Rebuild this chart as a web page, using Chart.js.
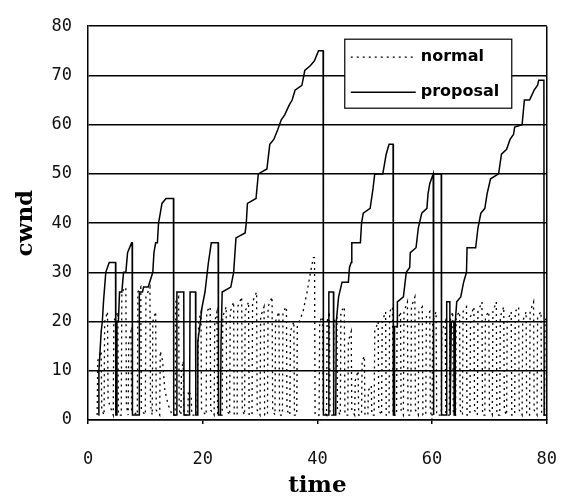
<!DOCTYPE html>
<html>
<head>
<meta charset="utf-8">
<script src="https://cdn.jsdelivr.net/npm/chart.js@4.4.1/dist/chart.umd.min.js"></script>
<style>
  html, body { margin: 0; padding: 0; background: #fff; }
  canvas { display: block; }
</style>
</head>
<body>
<canvas id="cwndChart" width="582" height="500"></canvas>
<script>
// proposal (solid) trace
const proposalTime = [
  1.8, 1.9, 2.1, 2.3, 2.5, 2.7, 2.9, 3.1, 3.7, 4.8, 4.85,
  5.0, 5.05, 5.3, 5.5, 5.9, 6.2, 6.6, 6.9, 7.6, 7.7, 7.75, 8.9,
  8.95, 9.5, 9.7, 10.5, 11.3, 11.5, 11.8, 12.1, 12.3, 12.6, 12.9, 13.6, 14.9, 14.95,
  15.4, 15.5, 16.7, 16.75, 17.7, 17.8, 18.75, 18.8, 19.1,
  19.15, 19.5, 19.9, 20.4, 20.7, 21.0, 21.5, 22.7, 22.75,
  23.1, 23.2, 23.4, 24.9, 25.4, 25.8, 27.4, 27.6, 27.8, 29.3, 29.7, 31.2, 31.7, 32.4,
  33.1, 33.7, 34.3, 35.1, 35.6, 36.1, 37.3, 37.8, 38.8, 39.5, 40.2, 41.0, 41.05,
  41.9, 42.0, 42.8, 42.85, 43.2,
  43.3, 43.7, 44.3, 45.4, 45.6, 45.9, 46.0, 47.5, 47.7, 48.0, 49.2, 49.7, 50.0,
  51.4, 51.7, 52.0, 52.5, 53.2, 53.25,
  53.4, 53.45, 53.9, 53.95, 55.0, 55.5, 56.1, 56.2, 57.2, 57.6, 58.2, 59.1, 59.3,
  59.6, 60.2, 60.25, 60.3, 61.6, 61.65,
  62.5, 62.55, 63.1, 63.15, 63.3, 63.35, 63.8, 63.85, 64.0,
  64.05, 64.3, 65.0, 65.5, 66.0, 66.1, 67.6, 68.0, 68.5, 69.2, 69.6, 70.2, 71.6,
  72.1, 73.0, 73.6, 74.2, 74.4, 75.7, 76.1, 77.0, 77.8, 78.4, 78.6, 79.5, 79.55,
  79.9, 79.95, 80.0
];
const proposalCwnd = [
  1, 10, 14, 18, 20, 24, 27, 30, 32, 32, 1,
  1, 20, 20, 26, 26, 30, 30, 34, 36, 36, 1, 1,
  26, 26, 27, 27, 30, 34, 36, 36, 40, 42, 44, 45, 45, 1,
  1, 26, 26, 1, 1, 26, 26, 1, 1,
  16, 19, 23, 26, 29, 32, 36, 36, 1,
  1, 16, 26, 27, 30, 37, 38, 40, 44, 45, 50, 51, 56, 57,
  59, 61, 62, 64, 65, 67, 68, 71, 72, 73, 75, 75, 1,
  1, 26, 26, 1, 1,
  20, 25, 28, 28, 31, 32, 36, 36, 40, 42, 43, 47, 50,
  50, 52, 54, 56, 56, 1,
  1, 19, 19, 24, 25, 30, 31, 34, 35, 39, 42, 43, 46,
  48, 50, 1, 50, 50, 1,
  1, 24, 24, 1, 1, 20, 20, 1, 1,
  20, 24, 25, 28, 30, 35, 35, 39, 42, 43, 46, 49, 50,
  54, 55, 57, 58, 59.5, 60, 65, 65, 67, 68, 69, 69, 1,
  1, 17, 20
];

// normal (dotted) trace
const normalTime = [
  1.6, 1.7, 2.3, 2.4, 2.8, 2.9, 3.4, 3.5, 4.4, 4.5, 5.2, 5.3, 5.8, 5.9, 6.6, 6.7,
  7.0, 7.1, 7.5, 7.6, 8.6, 8.7, 9.2, 9.3, 10.0, 10.1, 10.8, 10.9, 11.2, 11.3, 11.8, 11.9,
  12.5, 12.6, 13.0, 13.4, 14.0, 14.4, 14.6,
  15.2, 15.3, 15.8, 15.9, 16.2, 16.3, 16.6, 16.7, 17.4, 17.5, 18.0, 18.1, 19.0, 19.3,
  19.7, 19.8, 20.6, 20.7, 21.3, 21.4, 22.0, 22.1, 22.5, 22.6,
  23.4, 23.5, 24.1, 24.2, 24.7, 24.8, 25.4, 25.5, 26.0, 26.1, 26.8, 26.9, 27.3, 27.4,
  28.0, 28.1, 28.6, 28.7, 29.4, 29.5, 30.0, 30.1, 30.7, 30.8, 31.3, 31.4, 32.1, 32.2,
  32.6, 32.7, 33.3, 33.4, 33.9, 34.0, 34.6, 34.7, 35.2, 35.3, 35.9, 36.0, 36.4, 36.5,
  37.5, 38.2, 38.8, 39.3, 39.5, 39.6, 40.3, 40.4, 40.9, 41.0, 41.6, 41.7, 42.1, 42.2,
  42.8, 42.9, 43.4, 43.5, 44.0, 44.1, 44.7, 44.8,
  45.3, 45.4, 45.9, 46.0, 46.5, 46.6, 47.1, 47.2, 47.7, 47.8, 48.2, 48.3, 48.8, 48.9,
  49.4, 49.5, 49.9, 50.0, 50.6, 50.7, 51.2, 51.3, 51.9, 52.0, 52.5, 52.6, 53.1, 53.2,
  53.8, 53.9, 54.5, 54.6, 55.0, 55.1, 55.7, 55.8, 56.3, 56.4, 57.0, 57.1, 57.6, 57.7,
  58.3, 58.4, 58.9, 59.0, 59.6, 59.7, 60.0, 60.1, 60.7, 60.8,
  61.6, 61.7, 62.3, 62.4, 63.0, 63.1, 63.6, 63.7, 64.1, 64.2, 64.8, 64.9, 65.3, 65.4,
  66.0, 66.1, 66.6, 66.7, 67.3, 67.4, 67.9, 68.0, 68.7, 68.8, 69.2, 69.3, 69.9, 70.0,
  70.5, 70.6, 71.2, 71.3, 71.8, 71.9, 72.5, 72.6, 73.0, 73.1, 73.8, 73.9, 74.4, 74.5,
  75.1, 75.2, 75.7, 75.8, 76.4, 76.5, 77.0, 77.1, 77.7, 77.8, 78.3, 78.4, 79.0, 79.1,
  79.6, 79.7, 80.0
];
const normalCwnd = [
  1, 12, 14, 2, 1, 20, 22, 4, 1, 20, 22, 1, 1, 26, 27, 3,
  1, 16, 18, 2, 1, 26, 27, 2, 1, 25, 27, 3, 1, 20, 22, 2,
  1, 14, 12, 6, 3, 2, 1,
  1, 24, 25, 2, 1, 10, 12, 1, 1, 6, 5, 1, 1, 20,
  22, 2, 1, 22, 23, 2, 1, 20, 22, 1,
  1, 21, 23, 2, 1, 22, 24, 1, 1, 23, 25, 2, 1, 22,
  24, 1, 1, 24, 26, 2, 1, 21, 23, 1, 1, 23, 25, 2,
  1, 20, 22, 1, 1, 22, 23, 2, 1, 18, 20, 1, 1, 19,
  22, 26, 30, 33, 33, 1, 1, 20, 21, 2, 1, 20, 22, 1,
  1, 20, 21, 2, 1, 22, 23, 1,
  1, 16, 18, 2, 1, 8, 10, 1, 1, 12, 13, 1, 1, 6,
  7, 1, 1, 18, 20, 2, 1, 20, 22, 1, 1, 22, 23, 1,
  1, 20, 22, 2, 1, 22, 24, 1, 1, 23, 25, 2, 1, 22,
  23, 1, 1, 21, 22, 2, 0, 20, 22, 1,
  1, 18, 20, 1, 1, 20, 22, 1, 1, 21, 22, 2, 1, 22,
  23, 1, 1, 21, 23, 2, 1, 22, 24, 1, 1, 21, 22, 2,
  1, 22, 24, 1, 1, 21, 23, 2, 1, 20, 22, 1, 1, 22,
  23, 2, 1, 20, 22, 1, 1, 22, 24, 2, 1, 21, 22, 1,
  1, 20, 21
];

const seriesLabels = ['normal', 'proposal'];
const xTickStep = 20;
const yTickStep = 10;

const toPoints = (xs, ys) => xs.map((x, i) => ({ x: x, y: ys[i] }));

const frameAndLegend = {
  id: 'frameAndLegend',
  beforeDraw: (chart) => {
    const ctx = chart.ctx;
    ctx.save();
    ctx.fillStyle = 'white';
    ctx.fillRect(0, 0, chart.width, chart.height);
    ctx.restore();
  },
  afterDraw: (chart) => {
    const ctx = chart.ctx;
    const a = chart.chartArea;
    ctx.save();
    // right edge of plot frame
    ctx.strokeStyle = '#000';
    ctx.lineWidth = 1.5;
    ctx.beginPath();
    ctx.moveTo(a.right, a.top);
    ctx.lineTo(a.right, a.bottom);
    ctx.stroke();

    // legend box
    const left = a.right - 202, top = a.top + 13, w = 167, h = 69;
    ctx.fillStyle = '#fff';
    ctx.fillRect(left, top, w, h);
    ctx.lineWidth = 1.2;
    ctx.strokeRect(left, top, w, h);
    ctx.font = 'bold 16px "DejaVu Sans"';
    ctx.textBaseline = 'middle';
    ctx.fillStyle = '#000';
    chart.data.datasets.forEach((ds, i) => {
      const y = top + 18 + i * 35;
      ctx.setLineDash(ds.borderDash || []);
      ctx.lineWidth = ds.borderWidth;
      ctx.beginPath();
      ctx.moveTo(left + 6, y);
      ctx.lineTo(left + 71, y);
      ctx.stroke();
      ctx.setLineDash([]);
      ctx.fillText(ds.label, left + 76, y);
    });
    ctx.restore();
  }
};

new Chart(document.getElementById('cwndChart'), {
  type: 'line',
  data: {
    datasets: [
      {
        label: seriesLabels[0],
        data: toPoints(normalTime, normalCwnd),
        borderColor: '#000',
        borderWidth: 1.3,
        borderDash: [2, 4]
      },
      {
        label: seriesLabels[1],
        data: toPoints(proposalTime, proposalCwnd),
        borderColor: '#000',
        borderWidth: 1.5
      }
    ]
  },
  options: {
    responsive: false,
    animation: false,
    layout: { padding: { top: 17, right: 19, left: 0, bottom: 0 } },
    elements: {
      point: { radius: 0 },
      line: { tension: 0 }
    },
    plugins: {
      legend: { display: false },
      tooltip: { enabled: false }
    },
    scales: {
      x: {
        type: 'linear',
        min: 0,
        max: 80,
        afterFit: (scale) => { scale.height = 80; },
        border: { display: true, color: '#000', width: 1.5 },
        grid: { drawOnChartArea: false, drawTicks: true, tickLength: 4, color: '#000', lineWidth: 1.5 },
        ticks: {
          stepSize: xTickStep,
          padding: 25,
          color: '#111',
          font: { family: '"DejaVu Sans Mono"', size: 17 }
        },
        title: {
          display: true,
          text: 'time',
          color: '#000',
          font: { family: '"DejaVu Serif"', size: 23, weight: 'bold', lineHeight: 1 },
          padding: { top: 0, bottom: 2 }
        }
      },
      y: {
        min: 0,
        max: 80,
        afterFit: (scale) => { scale.width = 88; },
        border: { display: true, color: '#000', width: 1.5 },
        grid: { color: '#000', lineWidth: 1.5, drawTicks: false },
        ticks: {
          stepSize: yTickStep,
          padding: 16,
          color: '#111',
          font: { family: '"DejaVu Sans Mono"', size: 17 }
        },
        title: {
          display: true,
          text: 'cwnd',
          color: '#000',
          font: { family: '"DejaVu Serif"', size: 23, weight: 'bold', lineHeight: 1 },
          padding: { top: 15, bottom: 0 }
        }
      }
    }
  },
  plugins: [frameAndLegend]
});
</script>
</body>
</html>
